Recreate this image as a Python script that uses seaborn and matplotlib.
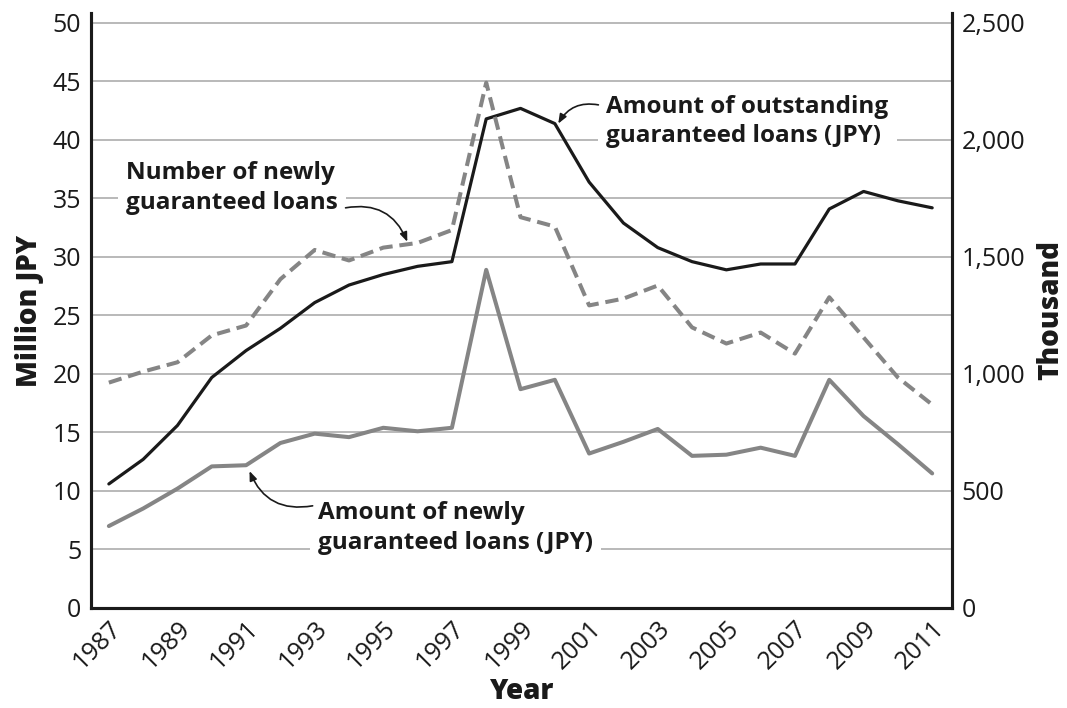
import numpy as np
import pandas as pd
import matplotlib
matplotlib.use("Agg")
import matplotlib.pyplot as plt
import matplotlib.transforms as mtransforms
import seaborn as sns

# ---------------------------------------------------------
# Data
# ---------------------------------------------------------
years = list(range(1987, 2012))

# Amount of outstanding guaranteed loans (JPY) - left axis, million JPY
outstanding = [10.6, 12.7, 15.6, 19.7, 22.0, 23.9, 26.1, 27.6, 28.5, 29.2,
               29.6, 41.8, 42.7, 41.4, 36.4, 32.9, 30.8, 29.6, 28.9, 29.4,
               29.4, 34.1, 35.6, 34.8, 34.2]

# Number of newly guaranteed loans - right axis, thousand
number_new = [963, 1010, 1050, 1165, 1207, 1405, 1530, 1485, 1540, 1560,
              1615, 2245, 1670, 1630, 1293, 1322, 1378, 1199, 1130, 1177,
              1087, 1328, 1156, 985, 869]

# Amount of newly guaranteed loans (JPY) - left axis, million JPY
amount_new = [7.0, 8.5, 10.2, 12.1, 12.2, 14.1, 14.9, 14.6, 15.4, 15.1,
              15.4, 28.9, 18.7, 19.5, 13.2, 14.2, 15.3, 13.0, 13.1, 13.7,
              13.0, 19.5, 16.4, 14.0, 11.5]

left_ticks = list(range(0, 55, 5))
right_ticks = [0, 500, 1000, 1500, 2000, 2500]

df = pd.DataFrame({"Year": years, "Outstanding": outstanding,
                   "Number": number_new, "Amount": amount_new})

# ---------------------------------------------------------
# Plot
# ---------------------------------------------------------
sns.set_style("white")
plt.rcParams["font.family"] = ["Open Sans", "DejaVu Sans"]

fig = plt.figure(figsize=(10.67, 7.08), dpi=100)
ax = fig.add_axes([0.0853, 0.1413, 0.807, 0.8403])
ax2 = ax.twinx()

ink = "#1a1a1a"
grid_c = "#b3b3b3"
for t in left_ticks[1:]:
    ax.axhline(t, color=grid_c, lw=1.3, zorder=0)

sns.lineplot(data=df, x="Year", y="Amount", ax=ax, color="#858585", lw=2.9, zorder=3)
sns.lineplot(data=df, x="Year", y="Outstanding", ax=ax, color=ink, lw=2.3, zorder=4)
sns.lineplot(data=df, x="Year", y="Number", ax=ax2, color="#858585", lw=2.9, zorder=3)
ax2.lines[0].set_dashes([3.3, 1.7])

ymax = 50.85
ax.set_xlim(1986.48, 2011.58)
ax.set_ylim(0, ymax)
ax2.set_ylim(0, ymax * 50)

ax.set_yticks(left_ticks)
ax.set_yticklabels([str(t) for t in left_ticks])
ax2.set_yticks(right_ticks)
ax2.set_yticklabels([f"{t:,}" for t in right_ticks])

ax.set_xticks(years[::2])
ax.set_xticks(years[1::2], minor=True)
ax.set_xticklabels([str(y) for y in years[::2]], rotation=45, ha="right",
                   va="top", rotation_mode="anchor")
shift = mtransforms.ScaledTranslation(11 / 100, 0, fig.dpi_scale_trans)
for lab in ax.get_xticklabels():
    lab.set_transform(lab.get_transform() + shift)

ax.tick_params(axis="x", which="major", direction="in", length=12, width=1.1,
               labelsize=18, pad=6, colors=ink)
ax.tick_params(axis="x", which="minor", direction="in", length=7, width=1.1,
               colors=ink)
ax.tick_params(axis="y", length=0, labelsize=18, pad=7, colors=ink)
ax2.tick_params(axis="y", length=0, labelsize=18, pad=7, colors=ink)

for a in (ax, ax2):
    a.spines["top"].set_visible(False)
    for s in ("left", "right", "bottom"):
        a.spines[s].set_color(ink)
        a.spines[s].set_linewidth(2.2)
    a.set_xlabel("")
    a.set_ylabel("")

lab_kw = dict(fontsize=20, fontweight="heavy", color=ink)
ax.set_xlabel("Year", labelpad=2, **lab_kw)
ax.set_ylabel("Million JPY", labelpad=6, **lab_kw)
ax2.set_ylabel("Thousand", labelpad=8, **lab_kw)

# ---------------------------------------------------------
# Annotations
# ---------------------------------------------------------
box = dict(facecolor="white", edgecolor="none", pad=6)
txt_kw = dict(fontsize=17.5, fontweight="bold", color=ink, ha="left",
              va="center", linespacing=1.3, bbox=box, zorder=2)
arrow_kw = dict(arrowstyle="-|>,head_length=0.55,head_width=0.22", color=ink,
                lw=1.2, shrinkA=0, shrinkB=0)

ax.text(1987.5, 35.9, "Number of newly\nguaranteed loans", **txt_kw)
ax.annotate("", xy=(1995.7, 31.3), xytext=(1993.9, 34.2),
            arrowprops=dict(connectionstyle="arc3,rad=-0.4", **arrow_kw))

ax.text(2001.5, 41.6, "Amount of outstanding\nguaranteed loans (JPY)", **txt_kw)
ax.annotate("", xy=(2000.1, 41.4), xytext=(2001.27, 43.0),
            arrowprops=dict(connectionstyle="arc3,rad=0.35", **arrow_kw))

ax.text(1993.1, 6.85, "Amount of newly\nguaranteed loans (JPY)", **txt_kw)
ax.annotate("", xy=(1991.1, 11.7), xytext=(1992.94, 8.73),
            arrowprops=dict(connectionstyle="arc3,rad=-0.4", **arrow_kw))

fig.savefig("out.png", dpi=100)
